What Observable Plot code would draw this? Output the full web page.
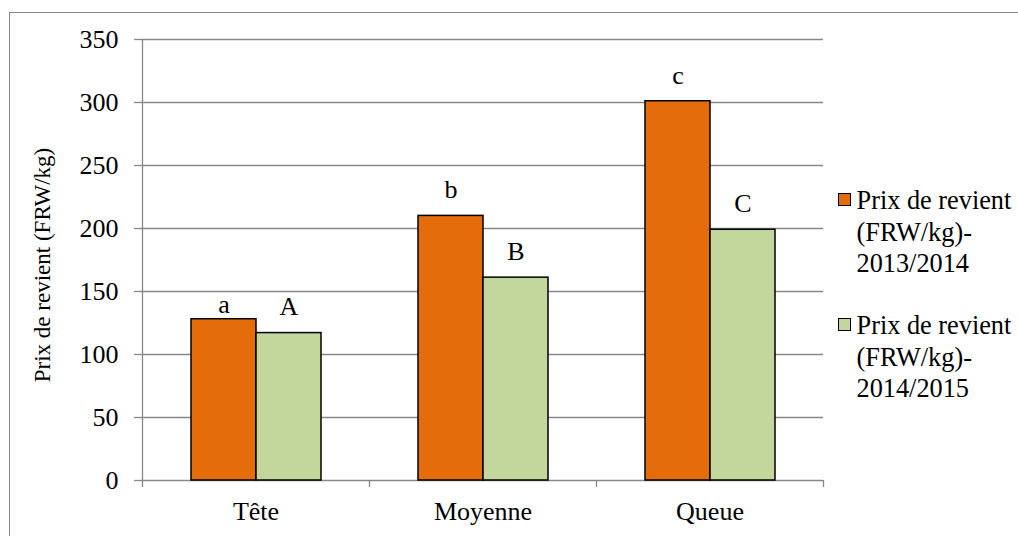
<!DOCTYPE html>
<html><head><meta charset="utf-8">
<script src="https://cdn.jsdelivr.net/npm/d3@7"></script>
<script src="https://cdn.jsdelivr.net/npm/@observablehq/plot@0.6"></script>
<style>
html,body{margin:0;padding:0;width:1018px;height:536px;overflow:hidden;background:#fff;}
#wrap{position:relative;width:1018px;height:536px;font-family:"Liberation Serif","Times New Roman",serif;}
#border{position:absolute;left:9px;top:12px;width:1030px;height:560px;border:1.3px solid #888;box-sizing:border-box;}
#chart{position:absolute;left:0;top:0;}
#legend{position:absolute;left:838px;top:185px;font-size:26.3px;line-height:31.5px;color:#000;}
.item{display:flex;align-items:flex-start;margin-bottom:30.5px;}
.sw{width:10.5px;height:10.5px;border:1.5px solid #000;margin-top:8px;margin-right:6px;flex:none}
.lbl{white-space:pre-line}
</style></head><body>
<div id="wrap"><div id="border"></div><div id="chart"></div><div id="legend"></div></div>
<script>
const categories = ["Tête", "Moyenne", "Queue"];
const series = ["Prix de revient (FRW/kg)-2013/2014", "Prix de revient (FRW/kg)-2014/2015"];
const values2013 = [128, 210, 301];
const values2014 = [117, 161, 199];
const letters2013 = ["a", "b", "c"];
const letters2014 = ["A", "B", "C"];
const yTicks = [0, 50, 100, 150, 200, 250, 300, 350];
const yTitle = "Prix de revient (FRW/kg)";

const colors = ["#E46C0A", "#C3D69B"];
const gray = "#888";

const data = [];
categories.forEach((c, i) => {
  data.push({cat: c, series: series[0], value: values2013[i], letter: letters2013[i]});
  data.push({cat: c, series: series[1], value: values2014[i], letter: letters2014[i]});
});

const W = 1018, H = 536, ML = 142, MR = 195, MT = 39, MB = 56;
const facetW = (W - ML - MR) / categories.length;
const labelDy = d => d.letter === "a" ? -15 : -26;
const font = "Liberation Serif";

const plot = Plot.plot({
  width: W, height: H,
  marginLeft: ML, marginRight: MR, marginTop: MT, marginBottom: MB,
  style: {fontFamily: font, fontSize: "26px", background: "transparent", color: "#000", overflow: "visible"},
  fx: {domain: categories, padding: 0},
  x: {domain: series, paddingInner: 0, paddingOuter: 0.744, axis: null},
  y: {domain: [0, 350]},
  color: {domain: series, range: colors},
  marks: [
    Plot.ruleY(yTicks, {stroke: gray, strokeWidth: 1.3}),
    Plot.ruleX(categories, {fx: d => d, x: null, y1: (d, i) => i === 0 ? 350 : 0, y2: 0, insetBottom: -7, dx: -facetW / 2, stroke: gray, strokeWidth: 1.3}),
    Plot.ruleX([categories[categories.length - 1]], {fx: d => d, x: null, y1: 0, y2: 0, insetBottom: -7, dx: facetW / 2, stroke: gray, strokeWidth: 1.3}),
    Plot.barY(data, {fx: "cat", x: "series", y: "value", fill: "series", stroke: "#000", strokeWidth: 1.5}),
    ...data.map(d => Plot.text([d], {fx: "cat", x: "series", y: "value", text: "letter", fontSize: 26, fontFamily: font, fill: "#000", dy: labelDy(d)})),
    Plot.axisY({ticks: yTicks, tickSize: 8, tickPadding: 16, stroke: gray, strokeWidth: 1.3, fill: "#000", fontSize: 26, fontFamily: font, label: null}),
    Plot.axisFx({anchor: "bottom", tickSize: 0, tickPadding: 21.5, fontSize: 26, fontFamily: font, fill: "#000", label: null}),
    Plot.text([categories[0]], {fx: d => d, frameAnchor: "left", textAnchor: "middle", text: () => yTitle, rotate: -90, dx: -100, dy: 5, fontSize: 23, fontFamily: font, fill: "#000"})
  ]
});
document.getElementById("chart").appendChild(plot);

const legend = document.getElementById("legend");
series.forEach((s, i) => {
  const item = document.createElement("div");
  item.className = "item";
  const sw = document.createElement("div");
  sw.className = "sw";
  sw.style.background = colors[i];
  const lbl = document.createElement("div");
  lbl.className = "lbl";
  lbl.textContent = s.replace(" (", "\n(").replace(")-", ")-\n");
  item.appendChild(sw); item.appendChild(lbl);
  legend.appendChild(item);
});
</script>
</body></html>
